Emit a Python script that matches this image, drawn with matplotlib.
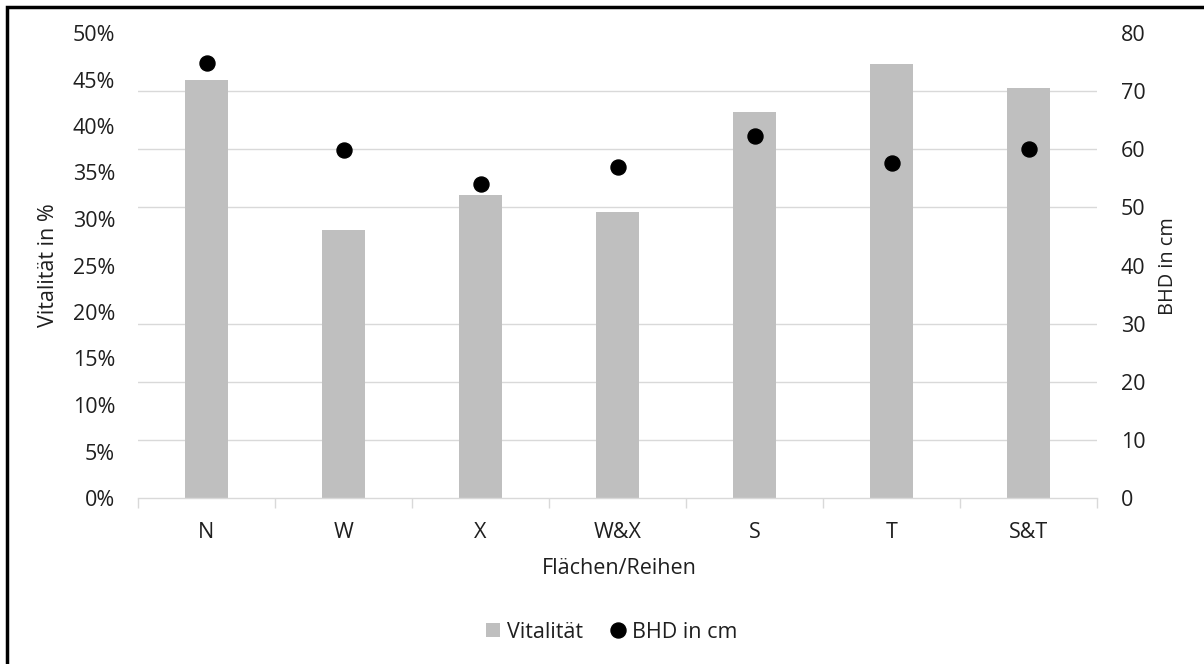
import matplotlib
matplotlib.use("Agg")
import matplotlib.pyplot as plt
import numpy as np
from matplotlib.ticker import PercentFormatter
from matplotlib.patches import Patch, Rectangle
from matplotlib.lines import Line2D

# Data
categories = ["N", "W", "X", "W&X", "S", "T", "S&T"]
vitalitaet = [0.450, 0.288, 0.326, 0.307, 0.415, 0.467, 0.441]   # share, left axis
bhd_cm = [74.9, 59.8, 54.0, 56.9, 62.3, 57.6, 60.0]              # right axis
pct_ticks = [0.00, 0.05, 0.10, 0.15, 0.20, 0.25, 0.30, 0.35, 0.40, 0.45, 0.50]
bhd_ticks = [0, 10, 20, 30, 40, 50, 60, 70, 80]

plt.rcParams["font.family"] = ["Open Sans", "DejaVu Sans"]
text_color = "#1f1f1f"
grid_color = "#d9d9d9"
bar_color = "#bfbfbf"
fs = 15.5

fig = plt.figure(figsize=(12.04, 6.64), dpi=100)
ax = fig.add_axes([138 / 1204, 1 - 498 / 664, (1097 - 138) / 1204, (498 - 33) / 664])
ax2 = ax.twinx()

x = np.arange(len(categories))
ax.bar(x, vitalitaet, width=0.32, color=bar_color, zorder=2)
ax2.plot(x, bhd_cm, linestyle="none", marker="o", markersize=10.8,
         color="black", zorder=3)

ax.set_xlim(-0.5, len(categories) - 0.5)
ax.set_ylim(0, 0.5)
ax2.set_ylim(0, 80)

# Left axis
ax.set_yticks(pct_ticks)
ax.yaxis.set_major_formatter(PercentFormatter(1.0, decimals=0))
ax.tick_params(axis="y", length=0, pad=16.5, labelsize=fs, labelcolor=text_color)

# Horizontal gridlines follow the right-hand scale, drawn behind the bars
ax.set_yticks([t / 80 * 0.5 for t in bhd_ticks], minor=True)
ax.tick_params(axis="y", which="minor", length=0)
ax.yaxis.grid(True, which="minor", color=grid_color, linewidth=1.0, zorder=0)
ax.yaxis.grid(False, which="major")
ax.set_axisbelow(True)

# Right axis
ax2.set_yticks(bhd_ticks)
ax2.tick_params(axis="y", length=0, pad=17, labelsize=fs, labelcolor=text_color)

# Category axis with ticks between categories
ax.set_xticks(x)
ax.set_xticklabels(categories)
ax.set_xticks(np.arange(-0.5, len(categories), 1.0), minor=True)
ax.tick_params(axis="x", which="major", length=0, pad=17, labelsize=fs,
               labelcolor=text_color)
ax.tick_params(axis="x", which="minor", length=7, width=1.0, color=grid_color,
               direction="out")

for a in (ax, ax2):
    for side in ("left", "right", "top"):
        a.spines[side].set_visible(False)
    a.spines["bottom"].set_color(grid_color)
    a.spines["bottom"].set_linewidth(1.0)
ax2.spines["bottom"].set_visible(False)

# Axis titles
fig.text(48 / 1204, 1 - 265 / 664, "Vitalität in %", rotation=90, ha="center",
         va="center", fontsize=fs, color=text_color)
fig.text(1168 / 1204, 1 - 266 / 664, "BHD in cm", rotation=90, ha="center",
         va="center", fontsize=14.3, color=text_color)
fig.text(619 / 1204, 1 - 568 / 664, "Flächen/Reihen", ha="center", va="center",
         fontsize=fs, color=text_color)

handles = [
    Patch(facecolor=bar_color, edgecolor="none", label="Vitalität"),
    Line2D([], [], linestyle="none", marker="o", markersize=10.8, color="black",
           label="BHD in cm"),
]
fig.legend(handles=handles, loc="center", bbox_to_anchor=(612 / 1204, 1 - 632 / 664),
           ncol=2, frameon=False, fontsize=fs, handlelength=0.65, handleheight=0.65,
           handletextpad=0.32, columnspacing=1.3, labelcolor=text_color)

# Outer frame
fig.patches.append(Rectangle((6.5 / 1204, -0.05), 1.2, 1 - 6.5 / 664 + 0.05,
                             transform=fig.transFigure, fill=False,
                             edgecolor="black", linewidth=2.5))

fig.savefig("out.png", dpi=100)
